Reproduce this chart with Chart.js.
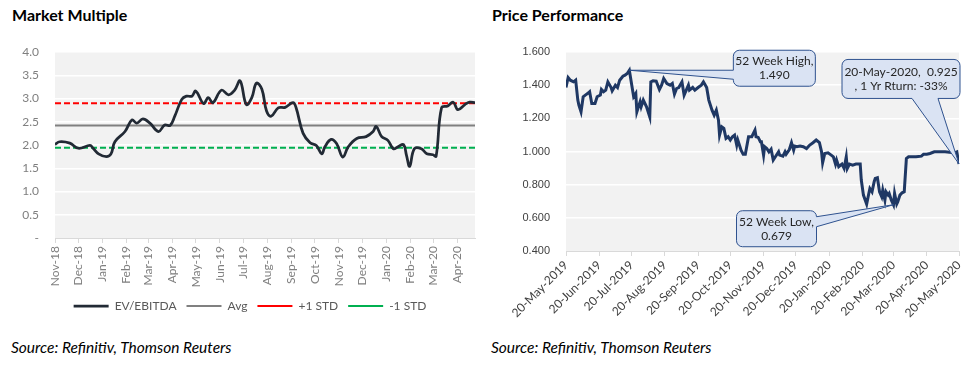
<!DOCTYPE html>
<html>
<head>
<meta charset="utf-8">
<script src="https://cdn.jsdelivr.net/npm/chart.js@4"></script>
<style>
  html, body { margin: 0; padding: 0; background: #fff; }
  body { width: 973px; height: 372px; position: relative; overflow: hidden; font-family: Lato, sans-serif; }
  .title { position: absolute; top: 5px; font-weight: bold; font-size: 16px; color: #000; }
  .source { position: absolute; top: 338px; font-style: italic; font-size: 15.5px; color: #000; }
  canvas { position: absolute; top: 0; }
</style>
</head>
<body>
<div class="title" style="left:12px">Market Multiple</div>
<div class="title" style="left:492px">Price Performance</div>
<canvas id="multiple" width="485" height="322" style="left:0"></canvas>
<canvas id="price" width="488" height="330" style="left:485px"></canvas>
<div class="source" style="left:11px">Source: Refinitiv, Thomson Reuters</div>
<div class="source" style="left:491px">Source: Refinitiv, Thomson Reuters</div>
<script>
// Market multiple — days counted from 1-Nov-2018
const multipleDays = [0, 6, 19, 30, 45, 49, 56, 66, 72, 77, 90, 99, 105, 113, 122, 133, 141, 148, 154, 163,
  169, 176, 181, 191, 197, 203, 214, 223, 231, 238, 246, 253, 259, 266, 272, 278, 287, 296, 306, 310,
  319, 328, 336, 343, 347, 355, 362, 370, 377, 388, 400, 409, 413, 420, 428, 435, 441, 448, 452, 456,
  462, 471, 478, 486, 490, 497, 505, 512, 518, 527, 533, 540];
const evEbitda = [2.01, 2.07, 2.04, 1.93, 1.99, 1.93, 1.81, 1.75, 1.81, 2.07, 2.29, 2.54, 2.47, 2.56, 2.47, 2.29, 2.43, 2.42, 2.62, 2.98,
  3.05, 3.05, 3.16, 2.89, 3.02, 2.91, 3.18, 3.08, 3.18, 3.38, 2.87, 3.02, 3.33, 3.20, 2.73, 2.62, 2.80, 2.81, 2.91, 2.80,
  2.25, 2.05, 1.99, 1.81, 1.96, 2.12, 2.03, 1.74, 1.96, 2.14, 2.18, 2.29, 2.40, 2.18, 2.10, 1.92, 1.96, 2.01, 1.77, 1.54,
  1.92, 1.92, 1.81, 1.79, 1.76, 2.80, 2.84, 2.92, 2.76, 2.87, 2.92, 2.91];
const avgMultiple = 2.42;
const plusStd = 2.90;
const minusStd = 1.94;
const multipleTickLabels = ['Nov-18', 'Dec-18', 'Jan-19', 'Feb-19', 'Mar-19', 'Apr-19', 'May-19', 'Jun-19', 'Jul-19',
  'Aug-19', 'Sep-19', 'Oct-19', 'Nov-19', 'Dec-19', 'Jan-20', 'Feb-20', 'Mar-20', 'Apr-20'];

// Price — days counted from 20-May-2019
const priceDays = [0, 2, 4, 7, 9, 11, 12, 14, 16, 18, 21, 22, 24, 27, 29, 32, 33, 35, 37, 39,
  42, 43, 46, 48, 50, 53, 55, 57, 59, 61, 63, 65, 66, 69, 70, 72, 75, 78, 79, 81,
  84, 87, 89, 91, 94, 97, 99, 101, 103, 105, 108, 110, 112, 114, 115, 118, 120, 123, 126, 128,
  131, 133, 136, 138, 140, 142, 143, 145, 147, 149, 151, 153, 155, 157, 159, 160, 162, 163, 165, 167,
  170, 173, 176, 177, 179, 181, 182, 184, 185, 187, 189, 191, 193, 195, 198, 199, 202, 204, 205, 208,
  210, 212, 213, 215, 218, 221, 224, 227, 230, 233, 236, 238, 239, 241, 244, 247, 249, 251, 252, 254,
  257, 259, 261, 262, 264, 267, 270, 274, 275, 277, 280, 282, 283, 285, 287, 288, 290, 292, 294, 295,
  297, 298, 300, 301, 303, 305, 306, 308, 309, 311, 313, 315, 317, 319, 322, 326, 331, 333, 336, 339,
  343, 348, 353, 357, 362, 364, 365, 366];
const price = [1.386, 1.446, 1.430, 1.420, 1.430, 1.310, 1.280, 1.239, 1.330, 1.340,
  1.354, 1.360, 1.290, 1.290, 1.330, 1.340, 1.374, 1.360, 1.370, 1.420,
  1.386, 1.366, 1.400, 1.386, 1.430, 1.454, 1.460, 1.470, 1.490, 1.410,
  1.330, 1.350, 1.239, 1.300, 1.270, 1.310, 1.270, 1.209, 1.420, 1.426,
  1.424, 1.374, 1.400, 1.440, 1.410, 1.400, 1.410, 1.346, 1.380, 1.386,
  1.420, 1.340, 1.370, 1.400, 1.370, 1.386, 1.370, 1.386, 1.400, 1.420,
  1.386, 1.310, 1.249, 1.219, 1.249, 1.189, 1.099, 1.149, 1.139, 1.079,
  1.089, 1.069, 1.089, 1.099, 1.039, 1.069, 1.029, 1.008, 0.984, 0.984,
  1.089, 1.089, 1.129, 1.089, 1.085, 1.059, 1.059, 0.978, 1.029, 1.018,
  0.998, 1.014, 0.948, 0.968, 0.998, 0.978, 0.972, 0.998, 0.984, 1.012,
  1.053, 1.008, 1.033, 1.029, 1.033, 1.029, 1.018, 1.039, 1.053, 1.069,
  1.053, 0.998, 0.932, 0.988, 0.992, 0.978, 0.968, 0.924, 0.948, 0.908,
  0.924, 0.898, 0.968, 0.898, 0.924, 0.918, 0.924, 0.924, 0.828, 0.737,
  0.683, 0.747, 0.777, 0.757, 0.818, 0.838, 0.842, 0.757, 0.727, 0.767,
  0.707, 0.757, 0.737, 0.747, 0.707, 0.679, 0.747, 0.683, 0.697, 0.737,
  0.751, 0.757, 0.958, 0.968, 0.968, 0.968, 0.972, 0.984, 0.984, 0.988,
  0.998, 0.998, 0.998, 0.996, 0.992, 0.998, 0.958, 0.925];
const priceTickLabels = ['20-May-2019', '20-Jun-2019', '20-Jul-2019', '20-Aug-2019', '20-Sep-2019', '20-Oct-2019',
  '20-Nov-2019', '20-Dec-2019', '20-Jan-2020', '20-Feb-2020', '20-Mar-2020', '20-Apr-2020', '20-May-2020'];

// tick positions = day offsets of the label dates
const DAY = 864e5;
const multipleTickDays = multipleTickLabels.map((_, i) => (Date.UTC(2018, 10 + i, 1) - Date.UTC(2018, 10, 1)) / DAY);
const priceTickDays = priceTickLabels.map((_, i) => (Date.UTC(2019, 4 + i, 20) - Date.UTC(2019, 4, 20)) / DAY);
const multipleEnd = multipleDays[multipleDays.length - 1];
const priceEnd = priceDays[priceDays.length - 1];

const toPoints = (xs, ys) => xs.map((x, i) => ({ x, y: ys[i] }));
const flat = (v, end) => [{ x: 0, y: v }, { x: end, y: v }];

// gray plot background
const plotBg = {
  id: 'plotBg',
  beforeDraw(chart) {
    const { ctx, chartArea: a } = chart;
    ctx.save();
    ctx.fillStyle = '#f2f2f2';
    ctx.fillRect(a.left, a.top, a.width, a.height);
    ctx.restore();
  }
};

// nudge the legend a little to the right, like the original
const legendShift = {
  id: 'legendShift',
  afterLayout(chart) {
    chart.legend.left += 5;
    chart.legend.right += 5;
  }
};

// rounded box with a wedge pointing to (px, py)
function calloutPath(ctx, x, y, w, h, r, side, a, b, px, py) {
  ctx.beginPath();
  ctx.moveTo(x + r, y);
  if (side === 'top') { ctx.lineTo(x + a, y); ctx.lineTo(px, py); ctx.lineTo(x + b, y); }
  ctx.arcTo(x + w, y, x + w, y + r, r);
  if (side === 'right') { ctx.lineTo(x + w, y + a); ctx.lineTo(px, py); ctx.lineTo(x + w, y + b); }
  ctx.arcTo(x + w, y + h, x + w - r, y + h, r);
  if (side === 'bottom') { ctx.lineTo(x + b, y + h); ctx.lineTo(px, py); ctx.lineTo(x + a, y + h); }
  ctx.arcTo(x, y + h, x, y + h - r, r);
  if (side === 'left') { ctx.lineTo(x, y + b); ctx.lineTo(px, py); ctx.lineTo(x, y + a); }
  ctx.arcTo(x, y, x + r, y, r);
  ctx.closePath();
}

const callouts = {
  id: 'callouts',
  afterDatasetsDraw(chart) {
    const { ctx, scales: { x, y } } = chart;
    const hi = price.indexOf(Math.max(...price));
    const lo = price.indexOf(Math.min(...price));
    const last = price.length - 1;
    const ret = Math.round((price[last] / price[0] - 1) * 100);
    const notes = [
      { i: hi, dx: 145, dy: -2, w: 82, h: 36, side: 'left', a: 20, b: 29,
        lines: ['52 Week High,', price[hi].toFixed(3)] },
      { i: lo, dx: -117, dy: 24, w: 80, h: 36, side: 'right', a: 6, b: 16,
        lines: ['52 Week Low,', price[lo].toFixed(3)] },
      { i: last, dx: -58, dy: -85, w: 118, h: 39, side: 'bottom', a: 70, b: 96,
        lines: [priceTickLabels[priceTickLabels.length - 1] + ',  ' + price[last].toFixed(3), ', 1 Yr Rturn: ' + ret + '%'] }
    ];
    ctx.save();
    notes.forEach(n => {
      const px = x.getPixelForValue(priceDays[n.i]);
      const py = y.getPixelForValue(price[n.i]);
      const bx = px + n.dx - n.w / 2;
      const by = py + n.dy - n.h / 2;
      calloutPath(ctx, bx, by, n.w, n.h, 6, n.side, n.a, n.b, px, py);
      ctx.fillStyle = '#dae3f3';
      ctx.fill();
      ctx.lineWidth = 1;
      ctx.strokeStyle = '#2f528f';
      ctx.stroke();
      ctx.fillStyle = '#262626';
      ctx.font = '12px Lato';
      ctx.textAlign = 'center';
      ctx.textBaseline = 'middle';
      ctx.fillText(n.lines[0], bx + n.w / 2, by + n.h / 2 - 7);
      ctx.fillText(n.lines[1], bx + n.w / 2, by + n.h / 2 + 7);
    });
    ctx.restore();
  }
};

new Chart(document.getElementById('multiple'), {
  type: 'line',
  data: {
    datasets: [
      { label: 'EV/EBITDA', data: toPoints(multipleDays, evEbitda), borderColor: '#222a35', borderWidth: 2.75, tension: 0.4, pointRadius: 0 },
      { label: 'Avg', data: flat(avgMultiple, multipleEnd), borderColor: '#808080', borderWidth: 2, pointRadius: 0 },
      { label: '+1 STD', data: flat(plusStd, multipleEnd), borderColor: '#ff0000', borderWidth: 2, borderDash: [6, 3], pointRadius: 0 },
      { label: '-1 STD', data: flat(minusStd, multipleEnd), borderColor: '#00b050', borderWidth: 2, borderDash: [6, 3], pointRadius: 0 }
    ]
  },
  options: {
    responsive: false,
    animation: false,
    layout: { padding: { top: 52, left: 15, right: 10, bottom: 0 } },
    plugins: {
      legend: {
        position: 'bottom',
        labels: {
          usePointStyle: true, pointStyle: 'line', pointStyleWidth: 35, boxHeight: 12,
          color: '#595959', font: { family: 'Lato', size: 12 }, padding: 10
        }
      },
      tooltip: { enabled: false }
    },
    scales: {
      x: {
        type: 'linear', min: 0, max: multipleEnd,
        afterBuildTicks: s => { s.ticks = multipleTickDays.map(v => ({ value: v })); },
        afterFit: s => { s.height = 52; },
        ticks: {
          callback: (v, i) => multipleTickLabels[i], autoSkip: false,
          minRotation: 90, maxRotation: 90, padding: 3,
          color: '#7f7f7f', font: { family: 'Lato', size: 12 }
        },
        grid: { drawOnChartArea: false, tickLength: 5, color: '#d9d9d9' },
        border: { color: '#d9d9d9' }
      },
      y: {
        min: 0, max: 4,
        afterFit: s => { s.width = 40; },
        ticks: {
          stepSize: 0.5, padding: 16,
          callback: v => v === 0 ? '-' : v.toFixed(1),
          color: '#7f7f7f', font: { family: 'Lato', size: 12 }
        },
        grid: { color: c => c.tick.value === 0 ? 'rgba(0,0,0,0)' : '#ffffff', lineWidth: 1.5, drawTicks: false },
        border: { display: false }
      }
    }
  },
  plugins: [plotBg, legendShift]
});

new Chart(document.getElementById('price'), {
  type: 'line',
  data: {
    datasets: [
      { label: 'Price', data: toPoints(priceDays, price), borderColor: '#1f3864', borderWidth: 3, pointRadius: 0, tension: 0 }
    ]
  },
  options: {
    responsive: false,
    animation: false,
    layout: { padding: { top: 52, left: 0, right: 14, bottom: 0 } },
    plugins: { legend: { display: false }, tooltip: { enabled: false } },
    scales: {
      x: {
        type: 'linear', min: 0, max: priceEnd,
        afterBuildTicks: s => { s.ticks = priceTickDays.map(v => ({ value: v })); },
        afterFit: s => { s.height = 79; },
        ticks: {
          callback: (v, i) => priceTickLabels[i], autoSkip: false,
          minRotation: 45, maxRotation: 45, padding: 2,
          color: '#404040', font: { family: 'Lato', size: 12 }
        },
        grid: { drawOnChartArea: false, tickLength: 5, color: '#d9d9d9' },
        border: { color: '#d9d9d9' }
      },
      y: {
        min: 0.4, max: 1.6,
        afterFit: s => { s.width = 81; },
        ticks: {
          stepSize: 0.2, padding: 16,
          callback: v => v.toFixed(3),
          color: '#404040', font: { family: 'Liberation Sans', size: 11 }
        },
        grid: { color: c => c.tick.value < 0.41 ? 'rgba(0,0,0,0)' : '#ffffff', lineWidth: 1.5, drawTicks: false },
        border: { display: false }
      }
    }
  },
  plugins: [plotBg, callouts]
});
</script>
</body>
</html>
